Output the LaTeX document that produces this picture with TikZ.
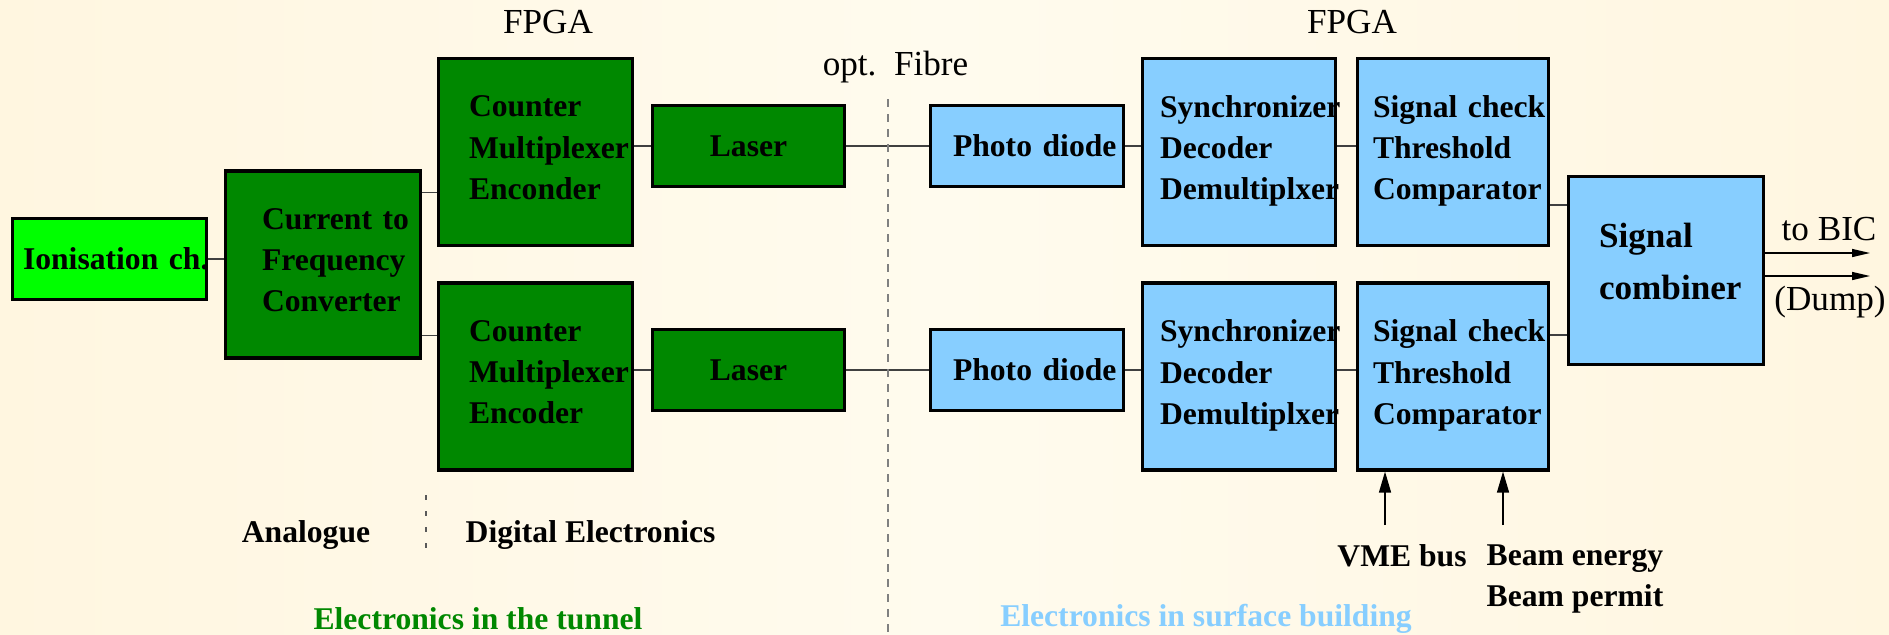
\documentclass[tikz,border=0pt]{standalone}
\usepackage{fontspec}
\setmainfont{Liberation Serif}
\usetikzlibrary{arrows.meta,calc}
\definecolor{tunnelgreen}{RGB}{0,136,0}
\definecolor{chambergreen}{RGB}{0,255,0}
\definecolor{surfaceblue}{RGB}{135,206,255}
\definecolor{paperedge}{RGB}{255,246,224}
\definecolor{papermid}{RGB}{255,251,238}
\newcommand{\blkfont}{\fontsize{9}{11.7}\selectfont\bfseries}
\newcommand{\bigblkfont}{\fontsize{10}{14.8}\selectfont\bfseries}
\newcommand{\notefont}{\fontsize{10}{12}\selectfont}
\hfuzz=2cm
\tikzset{blk/.style={draw=black, line width=0.9pt, align=left, font=\blkfont, text depth=0pt}}
\tikzset{tunnel blk/.style={blk, fill=tunnelgreen}}
\tikzset{surface blk/.style={blk, fill=surfaceblue}}
\tikzset{tall blk/.style={minimum height=1.87cm, text depth=0.91cm}}
\tikzset{flat blk/.style={minimum height=0.81cm}}
\tikzset{blk pad/.style 2 args={inner xsep=#1, text width=#2}}
\tikzset{link/.style={draw=black!75, line width=0.4pt}}
\tikzset{in arrow/.style={-{Triangle[length=2.1mm,width=1.2mm]}, line width=0.4pt}}
\tikzset{out arrow/.style={-{Triangle[length=1.8mm,width=0.8mm]}, line width=0.4pt}}
\tikzset{note/.style={font=\notefont, inner sep=0pt}}
\tikzset{bold note/.style={font=\blkfont, inner sep=0pt, align=left, text depth=0pt}}
\tikzset{fibre line/.style={draw=black!50, line width=0.6pt, dash pattern=on 0.08cm off 0.07cm}}
\tikzset{split line/.style={draw=black!65, line width=0.4pt, dash pattern=on 0.05cm off 0.11cm}}

\begin{document}
\begin{tikzpicture}[x=1cm,y=1cm]
	\fill[left color=paperedge, right color=paperedge, middle color=papermid] (0,0) rectangle (18.89,6.34);
	\useasboundingbox (0,0) rectangle (18.89,6.34);

	% tunnel side
	\node[blk, fill=chambergreen, flat blk, blk pad={0.105cm}{1.73cm}] (ion) at (1.095,3.75) {Ionisation~ch.};
	\node[tunnel blk, tall blk, blk pad={0.365cm}{1.22cm}] (cur) at (3.23,3.695) {Current~to\\Frequency\\Converter};
	\node[tunnel blk, tall blk, blk pad={0.305cm}{1.33cm}] (cnt1) at (5.355,4.82) {Counter\\Multiplexer\\Enconder};
	\node[tunnel blk, tall blk, blk pad={0.305cm}{1.33cm}] (cnt2) at (5.355,2.575) {Counter\\Multiplexer\\Encoder};
	\node[tunnel blk, flat blk, minimum width=1.92cm] (las1) at (7.485,4.88) {Laser};
	\node[tunnel blk, flat blk, minimum width=1.92cm] (las2) at (7.485,2.64) {Laser};

	% surface side
	\node[surface blk, flat blk, blk pad={0.225cm}{1.48cm}] (pd1) at (10.27,4.88) {Photo~diode};
	\node[surface blk, flat blk, blk pad={0.225cm}{1.48cm}] (pd2) at (10.27,2.64) {Photo~diode};
	\node[surface blk, tall blk, blk pad={0.175cm}{1.58cm}] (syn1) at (12.39,4.82) {Synchronizer\\Decoder\\Demultiplxer};
	\node[surface blk, tall blk, blk pad={0.175cm}{1.58cm}] (syn2) at (12.39,2.575) {Synchronizer\\Decoder\\Demultiplxer};
	\node[surface blk, tall blk, blk pad={0.155cm}{1.60cm}] (chk1) at (14.53,4.82) {Signal~check\\Threshold\\Comparator};
	\node[surface blk, tall blk, blk pad={0.155cm}{1.60cm}] (chk2) at (14.53,2.575) {Signal~check\\Threshold\\Comparator};
	\node[surface blk, minimum height=1.88cm, font=\bigblkfont, text depth=0.71cm, blk pad={0.305cm}{1.34cm}] (comb) at (16.66,3.635) {Signal\\combiner};

	% connections
	\coordinate (curOut1) at ($(cur.north east)+(0,-0.23)$);
	\coordinate (curOut2) at ($(cur.south east)+(0,0.24)$);
	\coordinate (combIn1) at ($(comb.north west)+(0,-0.30)$);
	\coordinate (combIn2) at ($(comb.south west)+(0,0.31)$);
	\draw[link] (ion.east) -- (ion.east -| cur.west);
	\draw[link] (curOut1) -- (curOut1 -| cnt1.west);
	\draw[link] (curOut2) -- (curOut2 -| cnt2.west);
	\draw[link] (cnt1.east |- las1.west) -- (las1.west);
	\draw[link] (cnt2.east |- las2.west) -- (las2.west);
	\draw[link] (las1) -- (pd1);
	\draw[link] (las2) -- (pd2);
	\draw[link] (pd1.east) -- (pd1.east -| syn1.west);
	\draw[link] (pd2.east) -- (pd2.east -| syn2.west);
	\draw[link] (syn1.east |- pd1.east) -- (chk1.west |- pd1.east);
	\draw[link] (syn2.east |- pd2.east) -- (chk2.west |- pd2.east);
	\draw[link] (chk1.east |- combIn1) -- (combIn1);
	\draw[link] (chk2.east |- combIn2) -- (combIn2);

	% outputs and inputs
	\coordinate (bic) at (18.70,3.81);
	\coordinate (dumpEnd) at (18.70,3.58);
	\draw[out arrow] (bic -| comb.east) -- (bic);
	\draw[out arrow] (dumpEnd -| comb.east) -- (dumpEnd);
	\node[note, anchor=base] (toBic) at (18.29,3.94) {to BIC};
	\node[note, anchor=base] (dump) at (18.30,3.24) {(Dump)};

	\coordinate (vmeIn) at (13.85,1.09);
	\coordinate (beamIn) at (15.03,1.09);
	\draw[in arrow] (vmeIn) -- (vmeIn |- chk2.south);
	\draw[in arrow] (beamIn) -- (beamIn |- chk2.south);
	\node[bold note, anchor=base] (vme) at (14.02,0.68) {VME bus};
	\node[bold note, anchor=west] (beam) at (14.86,0.585) {Beam~energy\\Beam~permit};

	% labels and separators
	\node[note, anchor=base] (fpgaL) at (5.48,6.01) {FPGA};
	\node[note, anchor=base] (fpgaR) at (13.52,6.01) {FPGA};
	\node[note, anchor=base] (fibre) at (8.955,5.59) {opt.~~Fibre};
	\draw[fibre line] (8.88,5.35) -- (8.88,0);
	\draw[split line] (4.26,1.39) -- (4.26,0.86);
	\node[bold note, anchor=base] (analog) at (3.06,0.92) {Analogue};
	\node[bold note, anchor=base west] (digital) at (4.65,0.92) {Digital Electronics};
	\node[bold note, anchor=base, text=tunnelgreen] (tunnel) at (4.78,0.05) {Electronics in the tunnel};
	\node[bold note, anchor=base, text=surfaceblue] (surface) at (12.06,0.08) {Electronics in surface building};
\end{tikzpicture}
\end{document}
